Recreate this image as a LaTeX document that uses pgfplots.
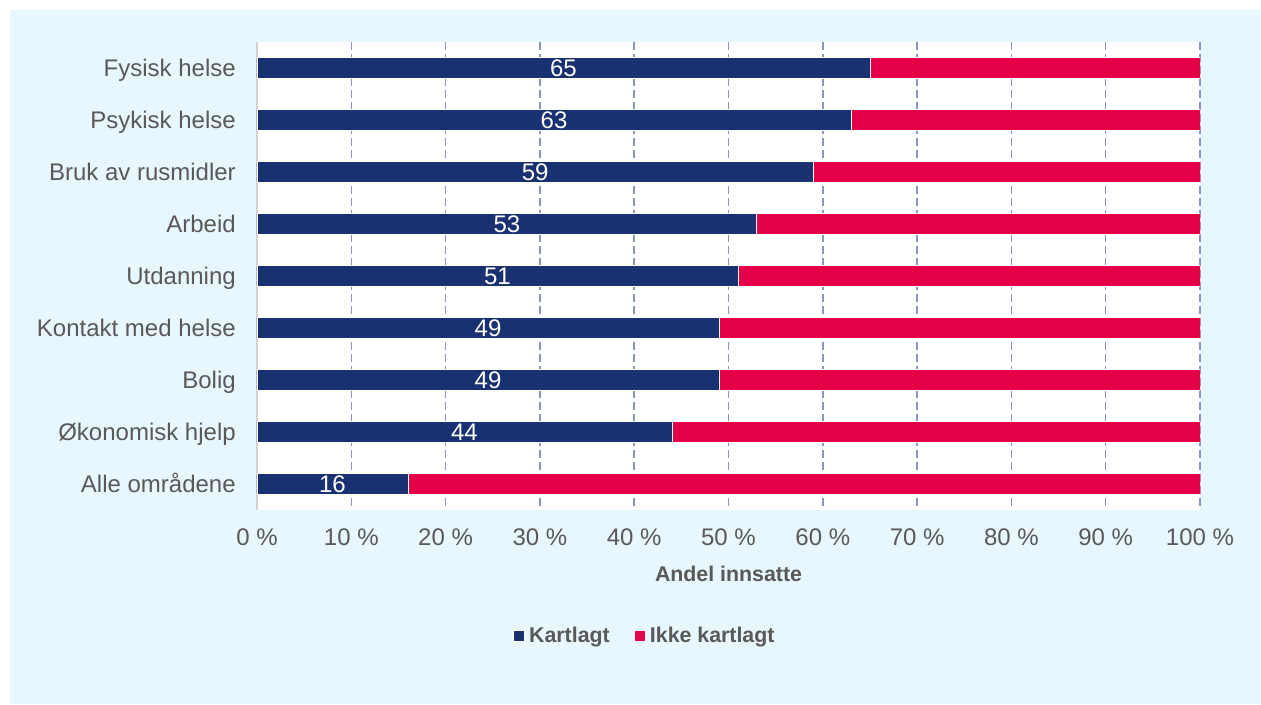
\documentclass[border=0pt]{standalone}
\usepackage{pgfplots}
\pgfplotsset{compat=1.18}
\usepackage{pgfplotstable}
\usepackage{fontspec}
\setmainfont{Liberation Sans}
\definecolor{navy}{HTML}{193170}
\definecolor{crimson}{HTML}{E40046}
\definecolor{panel}{HTML}{E8F6FD}
\definecolor{txt}{HTML}{595959}
\definecolor{gridc}{HTML}{8A96B9}
\pgfplotstableread{
idx kart ikke
0 65 35
1 63 37
2 59 41
3 53 47
4 51 49
5 49 51
6 49 51
7 44 56
8 16 84
}\datatab
\begin{document}
\begin{tikzpicture}
\path[use as bounding box] (0,0) rectangle (945.75pt,528pt);
\fill[white] (0,0) rectangle (945.75pt,528pt);
\fill[panel] (7.5pt,0) rectangle (945.75pt,520.5pt);
\begin{axis}[
  at={(192.75pt,145.5pt)}, anchor=south west,
  scale only axis, width=707.25pt, height=351pt,
  xbar stacked, bar width=15.5pt,
  xmin=0, xmax=100, ymin=-0.5, ymax=8.5, y dir=reverse,
  axis background/.style={fill=white},
  axis x line*=bottom, axis y line*=left,
  x axis line style={draw=none},
  y axis line style={draw=black!18, line width=1.2pt},
  major tick length=0pt,
  xtick={10,20,...,100},
  xticklabels={10 \%,20 \%,30 \%,40 \%,50 \%,60 \%,70 \%,80 \%,90 \%,100 \%},
  extra x ticks={0}, extra x tick labels={0 \%},
  extra x tick style={grid=none},
  ytick={0,...,8},
  yticklabels={Fysisk helse,Psykisk helse,Bruk av rusmidler,Arbeid,Utdanning,Kontakt med helse,Bolig,Økonomisk hjelp,Alle områdene},
  /pgf/number format/assume math mode=true,
  ticklabel style={font=\fontsize{18}{21.6}\selectfont, text=txt, inner sep=0pt},
  xticklabel style={anchor=base, yshift=-26.25pt},
  yticklabel style={anchor=base east, xshift=-15.75pt, yshift=-6.4pt},
  xmajorgrids, major grid style={draw=gridc, line width=1.1pt, dash pattern=on 6pt off 3pt},
  xlabel={\bfseries Andel innsatte},
  xlabel style={at={(axis description cs:0.5,0)}, anchor=base, yshift=-53.25pt, font=\fontsize{16}{19.2}\selectfont, text=txt, inner sep=0pt},
  legend columns=2,
  legend style={at={(0.4125,-0.269)}, anchor=center, draw=none, fill=none,
    font=\fontsize{16}{19.2}\selectfont\bfseries, text=txt,
    /tikz/every even column/.append style={column sep=15pt},
    nodes={inner sep=3.2pt}},
  legend image code/.code={\fill[#1] (0pt,-4.125pt) rectangle (8.25pt,4.125pt);},
]
\addplot[fill=navy, draw=white, line width=0.5pt,
  nodes near coords,
  every node near coord/.append style={anchor=center, text=white, font=\fontsize{18}{21.6}\selectfont, inner sep=0pt},
  ] table[x=kart, y=idx] {\datatab};
\addlegendentry{Kartlagt}
\addplot[fill=crimson, draw=white, line width=0.5pt] table[x=ikke, y=idx] {\datatab};
\addlegendentry{Ikke kartlagt}
\end{axis}
\end{tikzpicture}
\end{document}
